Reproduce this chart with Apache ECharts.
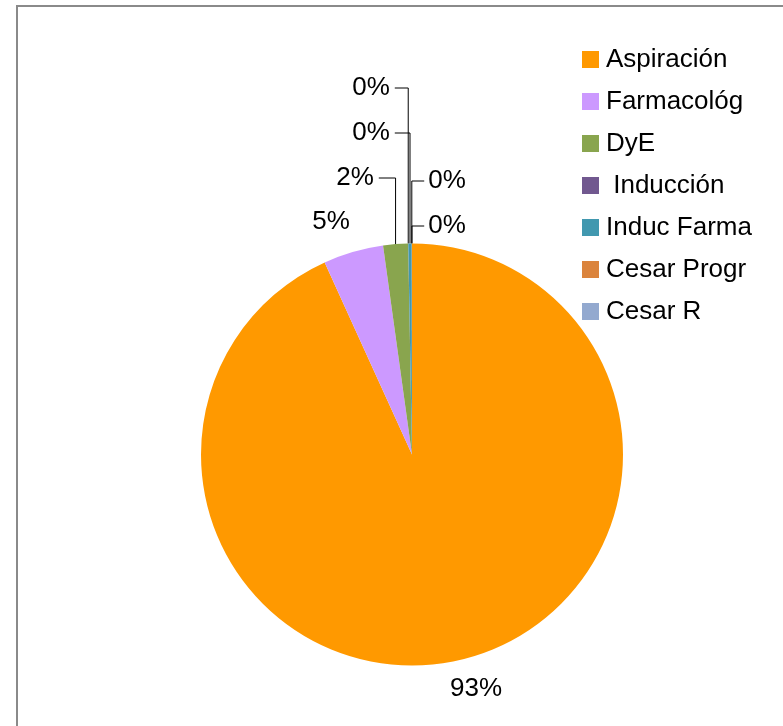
<!DOCTYPE html>
<html>
<head>
<meta charset="utf-8">
<script src="https://cdn.jsdelivr.net/npm/echarts@6/dist/echarts.min.js"></script>
<style>
html, body { margin: 0; padding: 0; background: #fff; }
#main { width: 783px; height: 726px; }
</style>
</head>
<body>
<div id="main"></div>
<script>
// categorias y valores (% aprox.)
var categorias = ['Aspiración', 'Farmacológ', 'DyE', ' Inducción', 'Induc Farma', 'Cesar Progr', 'Cesar R'];
var valores = [93.2, 4.6, 1.9, 0.01, 0.26, 0.01, 0.01];
var colores = ['#FF9900', '#CC99FF', '#89A54E', '#71588F', '#4198AF', '#DB843D', '#93A9CF'];

// centro de cada etiqueta y lado por donde sale la guia
var posEtiquetas = [
  [476, 689, 'none'],
  [331, 222, 'none'],
  [355, 178, 'left'],
  [371, 88, 'left'],
  [371, 133, 'left'],
  [447, 181, 'right'],
  [447, 226, 'right']
];

var datos = [];
for (var i = 0; i < categorias.length; i++) {
  datos.push({
    name: categorias[i],
    value: valores[i],
    itemStyle: { color: colores[i] },
    labelLine: { show: posEtiquetas[i][2] !== 'none' }
  });
}

var myChart = echarts.init(document.getElementById('main'));
myChart.setOption({
  animation: false,
  backgroundColor: '#fff',
  textStyle: { fontFamily: 'Liberation Sans' },
  graphic: [{
    type: 'rect',
    shape: { x: 17, y: 6, width: 800, height: 800 },
    style: { fill: 'none', stroke: '#8a8a8a', lineWidth: 2 },
    silent: true
  }],
  legend: {
    orient: 'vertical',
    left: 582,
    top: 46.5,
    padding: 0,
    itemWidth: 17,
    itemHeight: 17,
    itemGap: 16,
    icon: 'rect',
    selectedMode: false,
    textStyle: { fontFamily: 'Liberation Sans', fontSize: 26, lineHeight: 26, color: '#000', padding: [0, 0, 0, 2] },
    data: categorias
  },
  series: [{
    type: 'pie',
    center: [412, 454.5],
    radius: 211,
    startAngle: 90,
    clockwise: true,
    percentPrecision: 0,
    avoidLabelOverlap: false,
    itemStyle: { borderWidth: 0 },
    emphasis: { disabled: true },
    label: {
      show: true,
      position: 'outside',
      formatter: '{d}%',
      fontFamily: 'Liberation Sans',
      fontSize: 26,
      color: '#000'
    },
    labelLine: {
      show: true,
      length: 10,
      length2: 10,
      lineStyle: { color: '#000', width: 1 }
    },
    labelLayout: function (params) {
      var p = posEtiquetas[params.dataIndex];
      var out = { x: p[0], y: p[1], align: 'center', verticalAlign: 'middle' };
      if (p[2] !== 'none' && params.labelLinePoints) {
        var a = params.labelLinePoints[0];
        var w = params.labelRect.width;
        var finX = p[2] === 'left' ? p[0] + w / 2 + 5 : p[0] - w / 2 - 4;
        out.labelLinePoints = [[a[0], a[1]], [a[0], p[1]], [finX, p[1]]];
      }
      return out;
    },
    data: datos
  }]
});
</script>
</body>
</html>
